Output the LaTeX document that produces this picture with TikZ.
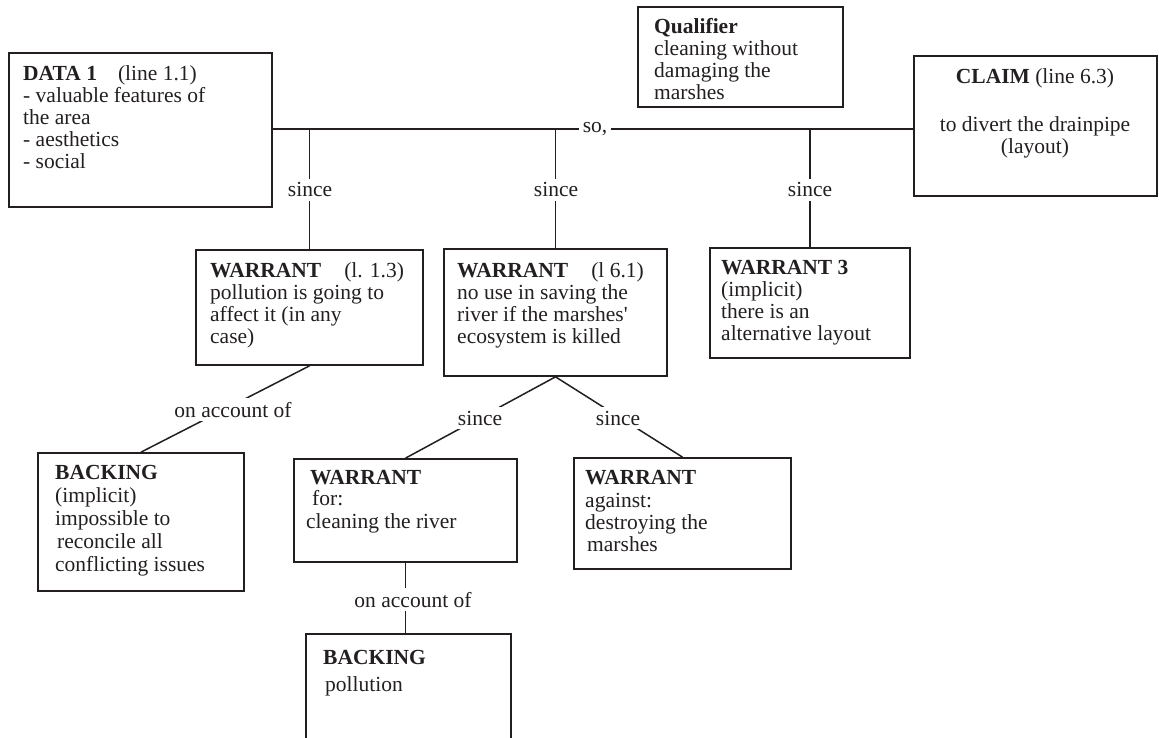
\documentclass[tikz,border=0pt]{standalone}
\usepackage{fontspec}
\setmainfont{Liberation Serif}
\definecolor{ink}{HTML}{231F20}
\begin{document}
\begin{tikzpicture}[x=1pt,y=-1pt,
  box/.style={draw=ink, line width=1.7pt, inner sep=0pt},
  txt/.style={anchor=north west, align=left, inner sep=0pt, text=ink, font=\fontsize{21.5}{22}\selectfont},
  conn/.style={draw=ink, line width=1.5pt},
  lbl/.style={anchor=base, fill=white, inner sep=4pt, text=ink, font=\fontsize{21.5}{22}\selectfont}]
\useasboundingbox (0,0) rectangle (1159,738);
\clip (0,0) rectangle (1159,738);

% boxes
\node[box, minimum width=263pt, minimum height=154pt] (data) at (140.5,130) {};
\node[box, minimum width=205pt, minimum height=100pt] (qual) at (740.5,57) {};
\node[box, minimum width=243pt, minimum height=140pt] (claim) at (1035.5,126) {};
\node[box, minimum width=227pt, minimum height=115pt] (w1) at (309.5,307.5) {};
\node[box, minimum width=223pt, minimum height=127pt] (w2) at (555.5,312.5) {};
\node[box, minimum width=200pt, minimum height=110pt] (w3) at (810,303) {};
\node[box, minimum width=206pt, minimum height=138pt] (b1) at (141,522) {};
\node[box, minimum width=223pt, minimum height=103pt] (wf) at (405.5,510.5) {};
\node[box, minimum width=217pt, minimum height=111pt] (wa) at (682.5,513.5) {};
\node[box, minimum width=205pt, minimum height=120pt] (b2) at (408.5,694) {};

% texts
\node[txt] (datat) at (23,65.5) {\textbf{DATA 1}\hspace{21pt}(line 1.1)\\- valuable features of\\the area\\- aesthetics\\- social};
\node[txt] (qualt) at (654,18.5) {\textbf{Qualifier}\\cleaning without\\damaging the\\marshes};
\node[txt, anchor=north, align=center] (claimt) at (1035,68.5) {\textbf{CLAIM} (line 6.3)\\[25.5pt]to divert the drainpipe\\(layout)};
\node[txt] (w1t) at (210,262.5) {\textbf{WARRANT}\hspace{23pt}(l. 1.3)\\pollution is going to\\affect it (in any\\case)};
\node[txt] (w2t) at (457,262.5) {\textbf{WARRANT}\hspace{23pt}(l 6.1)\\no use in saving the\\river if the marshes\textquotesingle\\ecosystem is killed};
\node[txt] (w3t) at (721,260.5) {\textbf{WARRANT 3}\\(implicit)\\there is an\\alternative layout};
\node[txt] (b1t) at (55,465.5) {\textbf{BACKING}\\[1pt](implicit)\\[1pt]impossible to\\[1pt]\hspace*{2pt}reconcile all\\[1pt]conflicting issues};
\node[txt] (wft) at (310,470.5) {\textbf{WARRANT}\\[-1pt]\hspace*{2pt}for:\\[1pt]\hspace*{-4pt}cleaning the river};
\node[txt] (wat) at (585,470.5) {\textbf{WARRANT}\\[1pt]against:\\destroying the\\\hspace*{2pt}marshes};
\node[txt] (b2t) at (323,650.5) {\textbf{BACKING}\\[5pt]\hspace*{2pt}pollution};

% connectors
\coordinate (main) at (0,129);
\draw[conn] (data.east |- main) -- (claim.west |- main);
\draw[conn] (w1.north) -- (w1.north |- main);
\draw[conn] (w2.north) -- (w2.north |- main);
\draw[conn] (w3.north) -- (w3.north |- main);
\draw[conn] (w1.south) -- (b1.north);
\draw[conn] (w2.south) -- (wf.north);
\draw[conn] (w2.south) -- (wa.north);
\draw[conn] (wf.south) -- (wf.south |- b2.north);

% connector labels
\node[lbl] (so) at (595,133) {so,};
\node[lbl] (s1) at (310,197) {since};
\node[lbl] (s2) at (556,197) {since};
\node[lbl] (s3) at (810,197) {since};
\node[lbl] (oa1) at (233,417) {on account of};
\node[lbl] (s4) at (480,425) {since};
\node[lbl] (s5) at (618,425) {since};
\node[lbl] (oa2) at (413,607) {on account of};
\end{tikzpicture}
\end{document}
